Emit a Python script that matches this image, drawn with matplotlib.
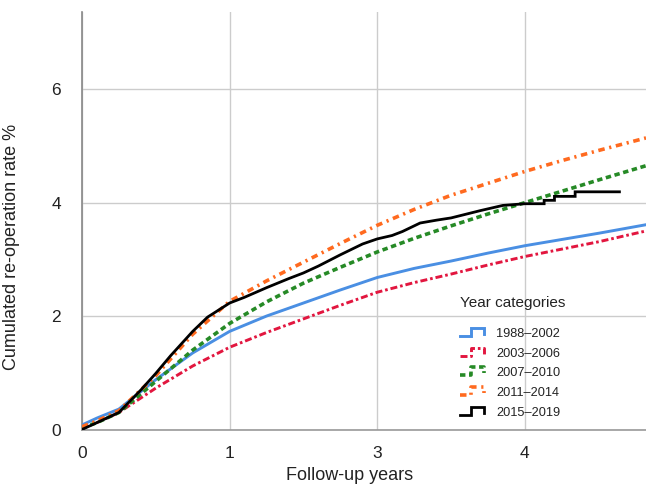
import matplotlib
matplotlib.use("Agg")
import matplotlib.pyplot as plt
from matplotlib.legend_handler import HandlerBase
from matplotlib.lines import Line2D

plt.rcParams['font.family'] = ['Liberation Sans', 'DejaVu Sans']

# ---------------- data ----------------
categories = ['1988–2002', '2003–2006', '2007–2010', '2011–2014', '2015–2019']

x_common = [0, 0.1, 0.25, 0.5, 0.75, 1.0, 1.25, 1.5, 1.75, 2.0, 2.25, 2.5,
            2.75, 3.0, 3.25, 3.5, 3.82]
y_1988 = [0.08, 0.20, 0.36, 0.88, 1.35, 1.73, 2.00, 2.23, 2.46, 2.68, 2.84,
          2.97, 3.11, 3.24, 3.35, 3.46, 3.61]
y_2003 = [0.02, 0.12, 0.30, 0.73, 1.12, 1.45, 1.71, 1.95, 2.19, 2.42, 2.59,
          2.74, 2.90, 3.05, 3.18, 3.31, 3.50]
y_2007 = [0.03, 0.12, 0.30, 0.85, 1.40, 1.87, 2.25, 2.58, 2.86, 3.13, 3.37,
          3.59, 3.80, 4.00, 4.20, 4.40, 4.65]
y_2011 = [0.05, 0.15, 0.33, 0.95, 1.68, 2.26, 2.62, 2.95, 3.28, 3.60, 3.88,
          4.13, 4.34, 4.55, 4.74, 4.92, 5.14]

x_2015 = [0, 0.1, 0.25, 0.4, 0.5, 0.6, 0.75, 0.85, 1.0, 1.1, 1.25, 1.4, 1.5,
          1.6, 1.75, 1.9, 2.0, 2.1, 2.17, 2.29, 2.4, 2.5, 2.7, 2.85, 3.0,
          3.13, 3.13, 3.2, 3.2, 3.34, 3.34, 3.64]
y_2015 = [0.0, 0.12, 0.30, 0.70, 0.99, 1.30, 1.73, 1.98, 2.23, 2.33, 2.50,
          2.66, 2.76, 2.88, 3.08, 3.27, 3.36, 3.42, 3.49, 3.64, 3.69, 3.73,
          3.86, 3.95, 3.98, 3.98, 4.04, 4.04, 4.11, 4.11, 4.19, 4.19]

x_tick_values = [0, 1, 2, 3]
x_tick_labels = ['0', '1', '3', '4']
y_tick_values = [0, 2, 4, 6]

# ---------------- styles ----------------
styles = [
    dict(color='#4a8fe3', lw=2.1, ls='-'),
    dict(color='#e2163f', lw=2.1, ls=(0, (2.4, 1.0, 0.9, 1.0))),
    dict(color='#268a26', lw=2.6, ls=(0, (1.5, 1.0))),
    dict(color='#ff6a1f', lw=2.6, ls=(0, (1.8, 1.3, 0.6, 1.3))),
    dict(color='#000000', lw=2.0, ls='-'),
]


class StepHandler(HandlerBase):
    def create_artists(self, legend, orig_handle, xdescent, ydescent,
                       width, height, fontsize, trans):
        x0 = -xdescent
        y0 = -ydescent
        xs = [x0, x0 + 0.45 * width, x0 + 0.45 * width, x0 + width, x0 + width]
        ys = [y0 + 0.1 * height, y0 + 0.1 * height, y0 + 1.0 * height,
              y0 + 1.0 * height, y0 + 0.35 * height]
        line = Line2D(xs, ys)
        self.update_prop(line, orig_handle, legend)
        line.set_transform(trans)
        return [line]


W, H = 646, 492
fig = plt.figure(figsize=(W / 100, H / 100), dpi=100)
ax = fig.add_axes([82 / W, 1 - 429.5 / H, (W - 82) / W, (429.5 - 12) / H])

series_x = [x_common, x_common, x_common, x_common, x_2015]
series_y = [y_1988, y_2003, y_2007, y_2011, y_2015]
handles = []
for xs, ys, st, lab in zip(series_x, series_y, styles, categories):
    h, = ax.plot(xs, ys, color=st['color'], lw=st['lw'], linestyle=st['ls'],
                 label=lab, solid_joinstyle='miter', zorder=3)
    handles.append(h)

ax.set_xlim(0, 3.82)
ax.set_ylim(0, 7.36)
ax.set_xticks(x_tick_values)
ax.set_xticklabels(x_tick_labels)
ax.set_yticks(y_tick_values)
ax.tick_params(axis='both', length=0, labelsize=12.5, colors='#222222')
ax.tick_params(axis='x', pad=12)
ax.tick_params(axis='y', pad=15)

ax.grid(True, color='#cccccc', lw=1.0, zorder=0)
ax.set_axisbelow(True)
for s in ['top', 'right']:
    ax.spines[s].set_visible(False)
ax.spines['left'].set_color('#888888')
ax.spines['bottom'].set_color('#999999')
ax.spines['left'].set_linewidth(1.2)
ax.spines['bottom'].set_linewidth(1.2)

ax.set_xlabel('Follow-up years', fontsize=13, color='#222222')
ax.set_ylabel('Cumulated re-operation rate %', fontsize=13, color='#222222')
ax.xaxis.set_label_coords(0.475, -0.089)
ax.yaxis.set_label_coords(-0.11, 0.437)

fig.text(460 / W, 1 - 303 / H, 'Year categories', fontsize=11, color='#222222',
         ha='left', va='center')
leg = ax.legend(handles=handles, labels=categories,
                handler_map={h: StepHandler() for h in handles},
                loc='upper left', bbox_to_anchor=(460 / W, 1 - 328 / H),
                bbox_transform=fig.transFigure, frameon=False, fontsize=9.2,
                borderpad=0, borderaxespad=0, handlelength=1.9,
                handletextpad=0.95, labelspacing=0.6)
for t in leg.get_texts():
    t.set_color('#222222')

fig.savefig('out.png', dpi=100)
